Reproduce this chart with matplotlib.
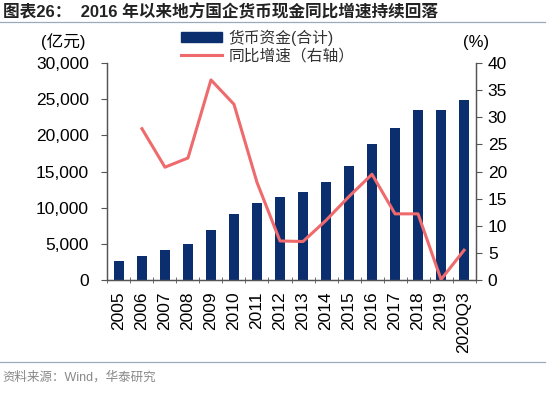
import matplotlib
matplotlib.use("Agg")
import matplotlib.pyplot as plt
import numpy as np
from matplotlib.lines import Line2D
from matplotlib.patches import Patch

plt.rcParams['font.family'] = ['Liberation Sans', 'Noto Sans CJK SC', 'DejaVu Sans']

categories = ['2005', '2006', '2007', '2008', '2009', '2010', '2011', '2012', '2013',
              '2014', '2015', '2016', '2017', '2018', '2019', '2020Q3']
cash = [2650, 3350, 4100, 5000, 6850, 9100, 10650, 11450, 12200,
        13550, 15700, 18750, 21000, 23500, 23500, 24850]
growth = [np.nan, 27.9, 20.8, 22.5, 36.9, 32.4, 18.0, 7.2, 7.1,
          11.0, 15.4, 19.5, 12.2, 12.2, 0.1, 5.5]
left_ticks = [0, 5000, 10000, 15000, 20000, 25000, 30000]
right_ticks = [0, 5, 10, 15, 20, 25, 30, 35, 40]

navy = '#0b2f6e'
red = '#ee6a6c'
axis_col = '#555555'

fig = plt.figure(figsize=(5.5, 3.93), dpi=100)
ax = fig.add_axes([0.1945, 0.2875, 0.671, 0.552])
x = np.arange(len(categories))
ax.bar(x, cash, width=0.42, color=navy, zorder=2)
ax.set_ylim(0, 30000)
ax.set_xlim(-0.52, len(categories) - 0.48)
ax.set_yticks(left_ticks)
ax.set_yticklabels([f'{v:,}' for v in left_ticks], fontsize=12.5)
ax.set_xticks(x)
ax.set_xticklabels(categories, rotation=90, fontsize=12.5)
ax.tick_params(axis='x', which='major', length=0, pad=8)
ax.set_xticks(np.arange(-0.5, len(categories), 1.0), minor=True)
ax.tick_params(axis='x', which='minor', length=4, direction='inout', color=axis_col)
ax.tick_params(axis='y', length=4, direction='out', color=axis_col, pad=9)

ax2 = ax.twinx()
ax2.plot(x, growth, color=red, lw=2.2, zorder=3)
ax2.set_ylim(0, 40)
ax2.set_yticks(right_ticks)
ax2.set_yticklabels([str(v) for v in right_ticks], fontsize=12.5)
ax2.tick_params(axis='y', length=4, direction='out', color=axis_col, pad=4.5)

for a in (ax, ax2):
    a.spines['top'].set_visible(False)
    for s in ('left', 'right', 'bottom'):
        a.spines[s].set_color(axis_col)
        a.spines[s].set_linewidth(0.9)

# legend
handles = [Patch(facecolor=navy, edgecolor=navy),
           Line2D([0], [0], color=red, lw=2.2)]
leg = fig.legend(handles, ['货币资金(合计)', '同比增速（右轴）'],
                 loc='upper left', bbox_to_anchor=(0.315, 0.945), frameon=False,
                 fontsize=11.3, handlelength=2.6, handleheight=0.6,
                 labelspacing=0.15, borderpad=0.0, handletextpad=0.4)
for t in leg.get_texts():
    t.set_color('#333333')

fig.text(0.115, 0.893, '(亿元)', fontsize=12, ha='center', va='center')
fig.text(0.866, 0.893, '(%)', fontsize=12, ha='center', va='center')

# title
fig.text(0.005, 0.968, '图表26：  2016 年以来地方国企货币现金同比增速持续回落',
         fontsize=12, fontweight='bold', ha='left', va='center', color='#222222')
fig.add_artist(Line2D([0.0, 0.99], [0.944, 0.944], color='#9aaabb', lw=0.9))
fig.add_artist(Line2D([0.0, 0.99], [0.08, 0.08], color='#9aaabb', lw=0.9))
fig.text(0.005, 0.04, '资料来源：Wind，华泰研究', fontsize=9, color='#888888',
         ha='left', va='center')

fig.savefig('out.png', dpi=100)
